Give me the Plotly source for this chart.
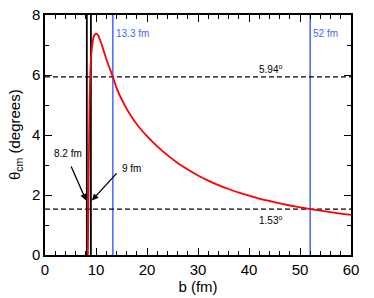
import plotly.graph_objects as go

b_fm = [8.40, 8.50, 8.60, 8.70, 8.80, 9.0, 9.3, 9.6, 10.0, 10.4, 10.8, 11.3, 11.8, 12.5, 13.3,
        14, 15, 16, 17, 18, 19, 20, 22, 24, 26, 28, 30, 32, 34, 36, 38, 40, 42, 44, 46, 48,
        50, 52, 54, 56, 58, 60]
theta_cm = [0, 1.5, 3.2, 4.6, 5.6, 6.5, 7.05, 7.3, 7.38, 7.33, 7.17, 6.92, 6.65, 6.3, 5.94,
            5.58, 5.2, 4.88, 4.6, 4.36, 4.15, 3.96, 3.62, 3.33, 3.07, 2.85, 2.65, 2.48, 2.33, 2.2,
            2.08, 1.98, 1.88, 1.80, 1.72, 1.65, 1.59, 1.53, 1.48, 1.43, 1.38, 1.34]

black_lines_b = [8.2, 9.0]
blue_lines_b = [13.3, 52.0]
blue_labels = ["13.3 fm", "52 fm"]
dashed_theta = [5.94, 1.53]
dashed_labels = ["5.94<sup>o</sup>", "1.53<sup>o</sup>"]

x_range = [0, 60]
y_range = [0, 8]
x_major = list(range(0, 61, 10))
x_minor = [v for v in range(0, 61, 2) if v % 10]
y_major = list(range(0, 9, 2))
y_minor = [1, 3, 5, 7]

FONT = "Liberation Sans, Arial, sans-serif"

fig = go.Figure()

for bv in black_lines_b:
    fig.add_trace(go.Scatter(x=[bv, bv], y=y_range, mode="lines",
                             line=dict(color="black", width=1.8), showlegend=False, hoverinfo="skip"))
for bv in blue_lines_b:
    fig.add_trace(go.Scatter(x=[bv, bv], y=y_range, mode="lines",
                             line=dict(color="#4466ff", width=1.5), showlegend=False, hoverinfo="skip"))
for tv in dashed_theta:
    fig.add_trace(go.Scatter(x=x_range, y=[tv, tv], mode="lines",
                             line=dict(color="black", width=1.2, dash="5px,3px"),
                             showlegend=False, hoverinfo="skip"))

fig.add_trace(go.Scatter(x=b_fm, y=theta_cm, mode="lines",
                         line=dict(color="red", width=1.8, shape="spline", smoothing=0.6),
                         showlegend=False))

font_ann = dict(family=FONT, size=10, color="black")
for bv, lab in zip(blue_lines_b, blue_labels):
    fig.add_annotation(x=bv, y=7.4, text=lab, showarrow=False, xanchor="left", xshift=1,
                       font=dict(family=FONT, size=10, color="#4466ff"))
fig.add_annotation(x=44.2, y=5.94, text=dashed_labels[0], showarrow=False, yanchor="bottom", yshift=0,
                   font=font_ann)
fig.add_annotation(x=44.2, y=1.53, text=dashed_labels[1], showarrow=False, yanchor="top", yshift=-3,
                   font=font_ann)

fig.add_annotation(x=8.05, y=1.82, ax=5.0, ay=3.0, axref="x", ayref="y", xref="x", yref="y",
                   text="", showarrow=True, arrowhead=2, arrowsize=1, arrowwidth=1.3, arrowcolor="black")
fig.add_annotation(x=4.6, y=3.15, text="8.2 fm", showarrow=False, font=font_ann, yanchor="bottom")
fig.add_annotation(x=9.2, y=1.82, ax=14.3, ay=2.77, axref="x", ayref="y", xref="x", yref="y",
                   text="", showarrow=True, arrowhead=2, arrowsize=1, arrowwidth=1.3, arrowcolor="black")
fig.add_annotation(x=14.7, y=2.87, text="9 fm", showarrow=False, font=font_ann, xanchor="left")

fig.add_annotation(xref="paper", yref="paper", x=-0.098, y=0.5, xanchor="center", yanchor="middle",
                   text="θ<sub>cm</sub> (degrees)", textangle=-90, showarrow=False,
                   font=dict(family=FONT, size=15, color="black"))

axis_common = dict(showline=True, linecolor="black", linewidth=1.5, mirror="allticks",
                   ticks="inside", ticklen=7, tickwidth=1.3, tickcolor="black",
                   showgrid=False, zeroline=False, automargin=False,
                   tickfont=dict(family=FONT, size=15, color="black"))

fig.update_xaxes(range=x_range, tickmode="array", tickvals=x_major,
                 minor=dict(tickmode="array", tickvals=x_minor, ticks="inside", ticklen=4,
                            tickcolor="black", tickwidth=1.1),
                 title=dict(text="b (fm)", standoff=1, font=dict(family=FONT, size=15, color="black")),
                 **axis_common)
fig.update_yaxes(range=y_range, tickmode="array", tickvals=y_major,
                 minor=dict(tickmode="array", tickvals=y_minor, ticks="inside", ticklen=4,
                            tickcolor="black", tickwidth=1.1),
                 **axis_common)

fig.update_layout(width=374, height=298, margin=dict(l=45, r=23, t=15, b=43),
                  plot_bgcolor="white", paper_bgcolor="white")

fig.write_html("out.html", config={"displayModeBar": False},
               post_script="document.body.style.margin='0';document.body.style.padding='0';")
